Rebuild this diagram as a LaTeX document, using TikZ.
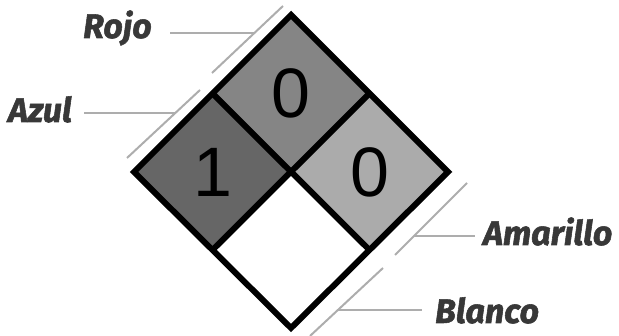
\documentclass[tikz,border=0pt]{standalone}
\usepackage{fontspec}
\setmainfont{Liberation Sans}
\newfontfamily\labelfont{Fira Sans}[BoldItalicFeatures={FakeBold=1.6}]
\usetikzlibrary{calc,positioning}
\definecolor{hazRed}{gray}{0.52}
\definecolor{hazBlue}{gray}{0.40}
\definecolor{hazYellow}{gray}{0.67}
\definecolor{labelGray}{gray}{0.22}
\definecolor{guideGray}{gray}{0.68}

\begin{document}
\begin{tikzpicture}[x=1pt, y=1pt,
  cell/.style={draw=black, line width=6pt, line join=miter},
  guide/.style={draw=guideGray, line width=2pt},
  lbl/.style={inner sep=0pt, text=labelGray, font=\labelfont\bfseries\itshape\fontsize{34}{40}\selectfont},
  digit/.style={inner sep=0pt, font=\fontsize{70}{80}\selectfont}]
  \useasboundingbox (0,0) rectangle (619,336);

  % diamond corners and edge midpoints
  \coordinate (top) at (291,321);
  \coordinate (left) at (134,164);
  \coordinate (bottom) at (291,8);
  \coordinate (right) at (448,164);
  \coordinate (mid) at (291,164);
  \coordinate (tl) at ($(top)!0.5!(left)$);
  \coordinate (tr) at ($(top)!0.5!(right)$);
  \coordinate (bl) at ($(bottom)!0.5!(left)$);
  \coordinate (br) at ($(bottom)!0.5!(right)$);

  % the four cells
  \fill[hazRed] (top) -- (tr) -- (mid) -- (tl) -- cycle;
  \fill[hazBlue] (tl) -- (mid) -- (bl) -- (left) -- cycle;
  \fill[hazYellow] (tr) -- (right) -- (br) -- (mid) -- cycle;
  \fill[white] (mid) -- (br) -- (bottom) -- (bl) -- cycle;
  \draw[cell] (top) -- (right) -- (bottom) -- (left) -- cycle;
  \draw[cell] (tl) -- (br);
  \draw[cell] (tr) -- (bl);

  \node[digit] (fire) at ($(top)!0.5!(mid)$) {0};
  \node[digit] (health) at ($(left)!0.5!(mid)$) {1};
  \node[digit] (react) at ($(right)!0.5!(mid)$) {0};

  % guides along the edges
  \draw[guide] (127,178) -- (200,246);
  \draw[guide] (212,263) -- (283,330);
  \draw[guide] (467,153) -- (395,81);
  \draw[guide] (383,68) -- (310,0);

  % labels
  \node[lbl, anchor=base west] (rojo) at (83,298) {Rojo};
  \node[lbl, anchor=base west] (azul) at (8,214) {Azul};
  \node[lbl, anchor=base west] (amarillo) at (483,91) {Amarillo};
  \node[lbl, anchor=base west] (blanco) at (435,13) {Blanco};

  \coordinate (rojoHit) at (255,303);
  \coordinate (azulHit) at (175,223);
  \coordinate (amarilloHit) at (414,100);
  \coordinate (blancoHit) at (338,26);
  \draw[guide, shorten >=18pt] (rojoHit) -- (rojoHit -| rojo.east);
  \draw[guide, shorten >=12pt] (azulHit) -- (azulHit -| azul.east);
  \draw[guide, shorten >=8pt] (amarilloHit) -- (amarilloHit -| amarillo.west);
  \draw[guide, shorten >=13pt] (blancoHit) -- (blancoHit -| blanco.west);
\end{tikzpicture}
\end{document}
